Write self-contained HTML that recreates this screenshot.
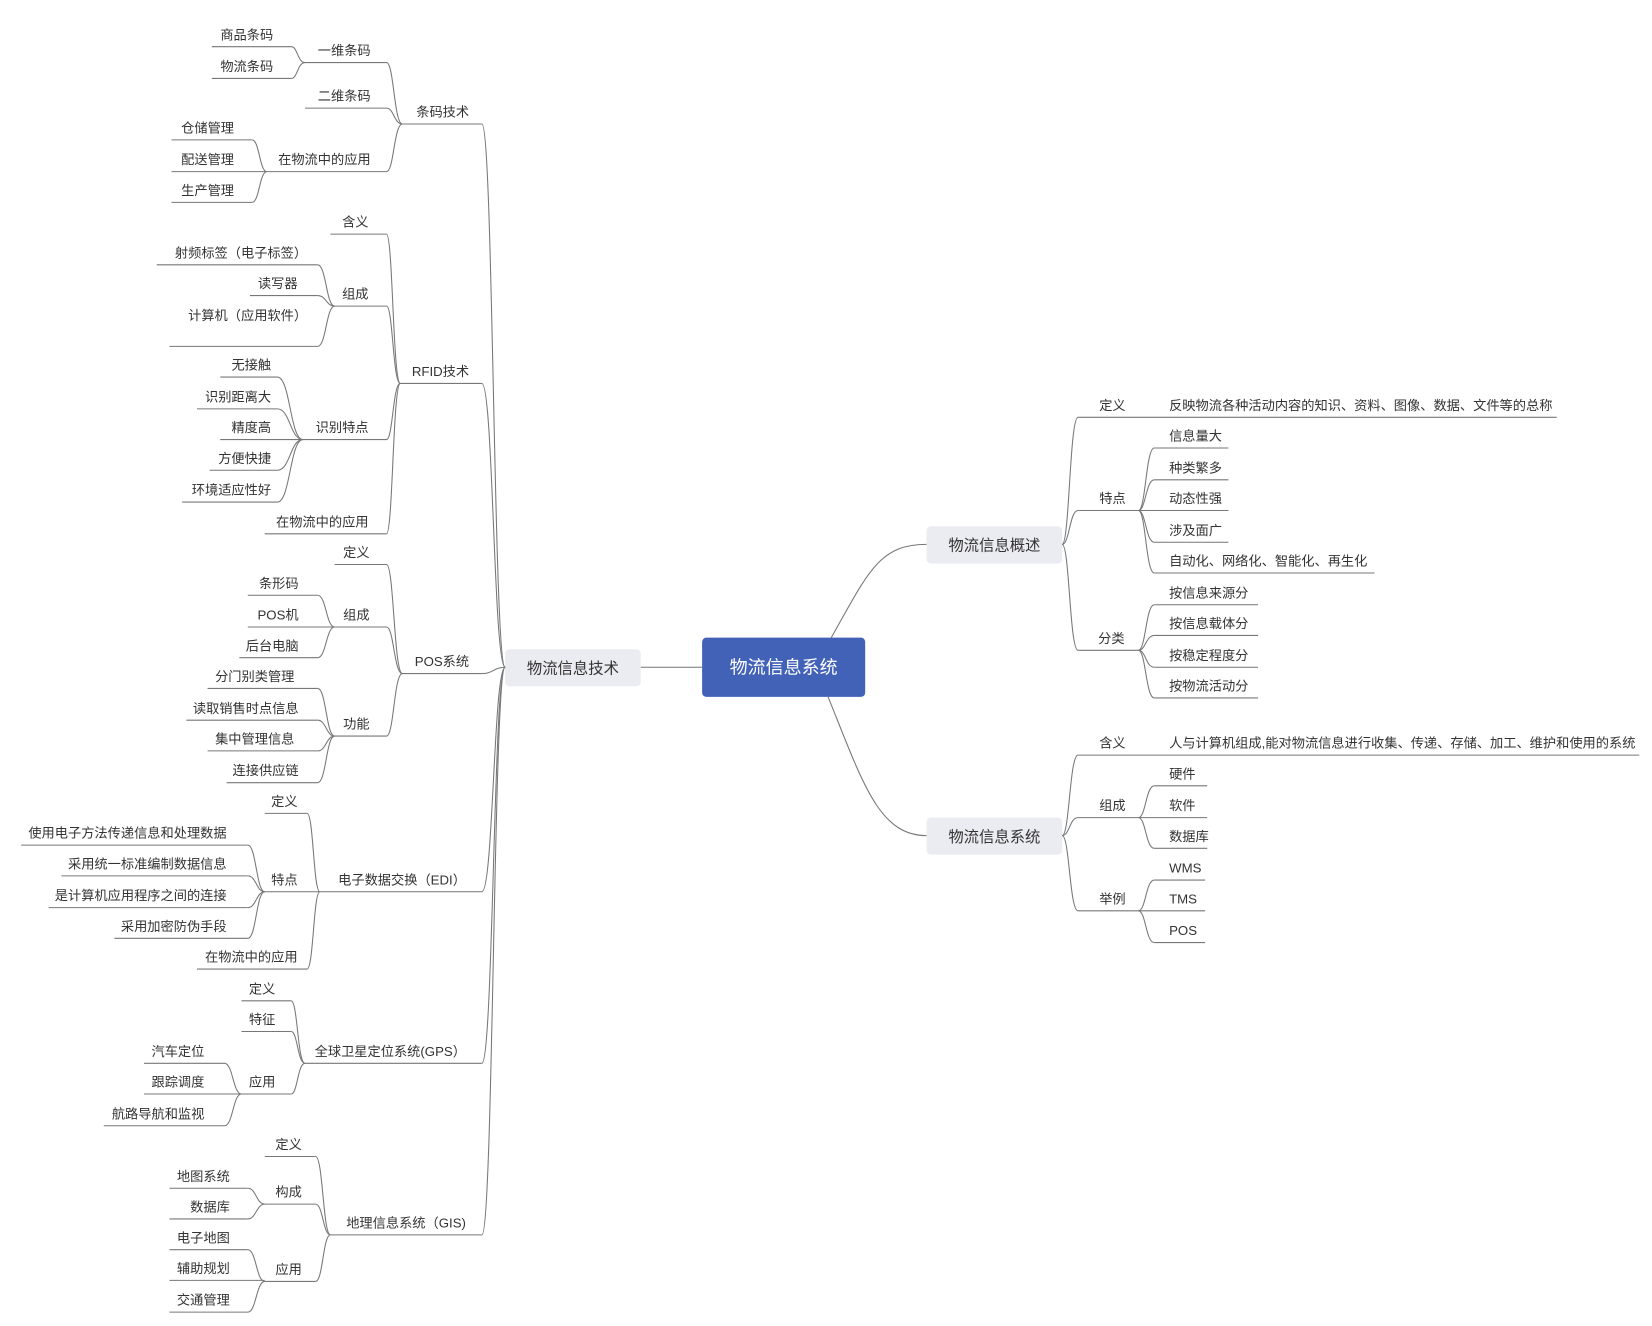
<!DOCTYPE html>
<html><head><meta charset="utf-8"><style>
html,body{margin:0;padding:0;background:#fff;}
svg{display:block;}
path,line{stroke:#777;fill:none;stroke-width:1;}
text{font-family:"Liberation Sans","Noto Sans CJK SC",sans-serif;font-size:12.5px;fill:#333;}
.e{text-anchor:end;}
</style></head><body>
<svg width="1652" height="1326" viewBox="0 0 1560 1252" xmlns="http://www.w3.org/2000/svg">
<!-- center -->
<line x1="605" y1="630" x2="663" y2="630"/>
<path d="M785 602 C820 540 830 514 875 514"/>
<path d="M782 658 C815 740 830 789 875 789"/>
<rect x="663" y="602" width="154" height="56" rx="4" fill="#4262b8"/>
<text x="740" y="636" style="font-size:17px;fill:#fff;text-anchor:middle">物流信息系统</text>
<rect x="477" y="613" width="128" height="35" rx="4" fill="#ebebf2"/>
<text x="541" y="636" style="font-size:14.5px;text-anchor:middle">物流信息技术</text>
<rect x="875" y="497" width="128" height="35" rx="4" fill="#ebebf2"/>
<text x="939" y="520" style="font-size:14.5px;text-anchor:middle">物流信息概述</text>
<rect x="875" y="772" width="128" height="35" rx="4" fill="#ebebf2"/>
<text x="939" y="795" style="font-size:14.5px;text-anchor:middle">物流信息系统</text>

<!-- left level1 -->
<path d="M477 630 C466 630 466 117 455 117"/><line x1="380" y1="117" x2="455" y2="117"/><text class="e" x="443" y="110">条码技术</text>
<path d="M477 630 C466 630 466 362 455 362"/><line x1="378" y1="362" x2="455" y2="362"/><text class="e" x="443" y="355">RFID技术</text>
<path d="M477 630 C466 630 466 636 455 636"/><line x1="380" y1="636" x2="455" y2="636"/><text class="e" x="443" y="629">POS系统</text>
<path d="M477 630 C466 630 466 842 455 842"/><line x1="302" y1="842" x2="455" y2="842"/><text class="e" x="440" y="835">电子数据交换（EDI）</text>
<path d="M477 630 C466 630 466 1004 455 1004"/><line x1="288" y1="1004" x2="455" y2="1004"/><text class="e" x="440" y="997">全球卫星定位系统(GPS）</text>
<path d="M477 630 C466 630 466 1166 455 1166"/><line x1="312" y1="1166" x2="455" y2="1166"/><text class="e" x="440" y="1159">地理信息系统（GIS)</text>

<!-- 条码技术 -->
<path d="M380 117 C372 117 372 59 365 59"/><line x1="288" y1="59" x2="365" y2="59"/><text class="e" x="350" y="52">一维条码</text>
<path d="M380 117 C372 117 372 102 365 102"/><line x1="288" y1="102" x2="365" y2="102"/><text class="e" x="350" y="95">二维条码</text>
<path d="M380 117 C372 117 372 162 365 162"/><line x1="252" y1="162" x2="365" y2="162"/><text class="e" x="350" y="155">在物流中的应用</text>
<path d="M288 59 C281 59 281 44 275 44"/><line x1="200" y1="44" x2="275" y2="44"/><text class="e" x="258" y="37">商品条码</text>
<path d="M288 59 C281 59 281 74 275 74"/><line x1="200" y1="74" x2="275" y2="74"/><text class="e" x="258" y="67">物流条码</text>
<path d="M252 162 C245 162 245 132 238 132"/><line x1="162" y1="132" x2="238" y2="132"/><text class="e" x="221" y="125">仓储管理</text>
<line x1="162" y1="162" x2="252" y2="162"/><text class="e" x="221" y="155">配送管理</text>
<path d="M252 162 C245 162 245 191 238 191"/><line x1="162" y1="191" x2="238" y2="191"/><text class="e" x="221" y="184">生产管理</text>

<!-- RFID -->
<path d="M378 362 C371 362 371 221 365 221"/><line x1="312" y1="221" x2="365" y2="221"/><text class="e" x="348" y="214">含义</text>
<path d="M378 362 C371 362 371 289 365 289"/><line x1="316" y1="289" x2="365" y2="289"/><text class="e" x="348" y="282">组成</text>
<path d="M378 362 C371 362 371 415 365 415"/><line x1="286" y1="415" x2="365" y2="415"/><text class="e" x="348" y="408">识别特点</text>
<path d="M378 362 C371 362 371 504 365 504"/><line x1="250" y1="504" x2="365" y2="504"/><text class="e" x="348" y="497">在物流中的应用</text>
<path d="M316 289 C308 289 308 250 300 250"/><line x1="148" y1="250" x2="300" y2="250"/><text class="e" x="290" y="243">射频标签（电子标签）</text>
<path d="M316 289 C308 289 308 279 300 279"/><line x1="236" y1="279" x2="300" y2="279"/><text class="e" x="281" y="272">读写器</text>
<path d="M316 289 C308 289 308 327 300 327"/><line x1="160" y1="327" x2="300" y2="327"/><text class="e" x="290" y="302">计算机（应用软件）</text>
<path d="M286 415 C274 415 274 356 262 356"/><line x1="208" y1="356" x2="262" y2="356"/><text class="e" x="256" y="349">无接触</text>
<path d="M286 415 C274 415 274 386 262 386"/><line x1="186" y1="386" x2="262" y2="386"/><text class="e" x="256" y="379">识别距离大</text>
<line x1="208" y1="415" x2="286" y2="415"/><text class="e" x="256" y="408">精度高</text>
<path d="M286 415 C274 415 274 444 262 444"/><line x1="198" y1="444" x2="262" y2="444"/><text class="e" x="256" y="437">方便快捷</text>
<path d="M286 415 C274 415 274 474 262 474"/><line x1="172" y1="474" x2="262" y2="474"/><text class="e" x="256" y="467">环境适应性好</text>

<!-- POS -->
<path d="M380 636 C372 636 372 533 365 533"/><line x1="316" y1="533" x2="365" y2="533"/><text class="e" x="349" y="526">定义</text>
<path d="M380 636 C372 636 372 592 365 592"/><line x1="316" y1="592" x2="365" y2="592"/><text class="e" x="349" y="585">组成</text>
<path d="M380 636 C372 636 372 695 365 695"/><line x1="316" y1="695" x2="365" y2="695"/><text class="e" x="349" y="688">功能</text>
<path d="M316 592 C308 592 308 562 300 562"/><line x1="234" y1="562" x2="300" y2="562"/><text class="e" x="282" y="555">条形码</text>
<line x1="234" y1="592" x2="316" y2="592"/><text class="e" x="282" y="585">POS机</text>
<path d="M316 592 C308 592 308 621 300 621"/><line x1="226" y1="621" x2="300" y2="621"/><text class="e" x="282" y="614">后台电脑</text>
<path d="M316 695 C308 695 308 650 300 650"/><line x1="196" y1="650" x2="300" y2="650"/><text class="e" x="278" y="643">分门别类管理</text>
<path d="M316 695 C308 695 308 680 300 680"/><line x1="176" y1="680" x2="300" y2="680"/><text class="e" x="282" y="673">读取销售时点信息</text>
<path d="M316 695 C308 695 308 709 300 709"/><line x1="196" y1="709" x2="300" y2="709"/><text class="e" x="278" y="702">集中管理信息</text>
<path d="M316 695 C308 695 308 739 300 739"/><line x1="214" y1="739" x2="300" y2="739"/><text class="e" x="282" y="732">连接供应链</text>

<!-- EDI -->
<path d="M302 842 C296 842 296 768 290 768"/><line x1="250" y1="768" x2="290" y2="768"/><text class="e" x="281" y="761">定义</text>
<line x1="250" y1="842" x2="302" y2="842"/><text class="e" x="281" y="835">特点</text>
<path d="M302 842 C296 842 296 915 290 915"/><line x1="186" y1="915" x2="290" y2="915"/><text class="e" x="281" y="908">在物流中的应用</text>
<path d="M250 842 C242 842 242 798 234 798"/><line x1="20" y1="798" x2="234" y2="798"/><text class="e" x="214" y="791">使用电子方法传递信息和处理数据</text>
<path d="M250 842 C242 842 242 827 234 827"/><line x1="58" y1="827" x2="234" y2="827"/><text class="e" x="214" y="820">采用统一标准编制数据信息</text>
<path d="M250 842 C242 842 242 857 234 857"/><line x1="46" y1="857" x2="234" y2="857"/><text class="e" x="214" y="850">是计算机应用程序之间的连接</text>
<path d="M250 842 C242 842 242 886 234 886"/><line x1="108" y1="886" x2="234" y2="886"/><text class="e" x="214" y="879">采用加密防伪手段</text>

<!-- GPS -->
<path d="M288 1004 C281 1004 281 945 275 945"/><line x1="228" y1="945" x2="275" y2="945"/><text class="e" x="260" y="938">定义</text>
<path d="M288 1004 C281 1004 281 974 275 974"/><line x1="228" y1="974" x2="275" y2="974"/><text class="e" x="260" y="967">特征</text>
<path d="M288 1004 C281 1004 281 1033 275 1033"/><line x1="228" y1="1033" x2="275" y2="1033"/><text class="e" x="260" y="1026">应用</text>
<path d="M228 1033 C220 1033 220 1004 212 1004"/><line x1="136" y1="1004" x2="212" y2="1004"/><text class="e" x="193" y="997">汽车定位</text>
<line x1="136" y1="1033" x2="228" y2="1033"/><text class="e" x="193" y="1026">跟踪调度</text>
<path d="M228 1033 C220 1033 220 1063 212 1063"/><line x1="98" y1="1063" x2="212" y2="1063"/><text class="e" x="193" y="1056">航路导航和监视</text>

<!-- GIS -->
<path d="M312 1166 C305 1166 305 1092 298 1092"/><line x1="250" y1="1092" x2="298" y2="1092"/><text class="e" x="285" y="1085">定义</text>
<path d="M312 1166 C305 1166 305 1137 298 1137"/><line x1="250" y1="1137" x2="298" y2="1137"/><text class="e" x="285" y="1130">构成</text>
<path d="M312 1166 C305 1166 305 1210 298 1210"/><line x1="250" y1="1210" x2="298" y2="1210"/><text class="e" x="285" y="1203">应用</text>
<path d="M250 1137 C242 1137 242 1122 234 1122"/><line x1="160" y1="1122" x2="234" y2="1122"/><text class="e" x="217" y="1115">地图系统</text>
<path d="M250 1137 C242 1137 242 1151 234 1151"/><line x1="160" y1="1151" x2="234" y2="1151"/><text class="e" x="217" y="1144">数据库</text>
<path d="M250 1210 C242 1210 242 1180 234 1180"/><line x1="160" y1="1180" x2="234" y2="1180"/><text class="e" x="217" y="1173">电子地图</text>
<line x1="160" y1="1209" x2="250" y2="1209"/><text class="e" x="217" y="1202">辅助规划</text>
<path d="M250 1210 C242 1210 242 1239 234 1239"/><line x1="160" y1="1239" x2="234" y2="1239"/><text class="e" x="217" y="1232">交通管理</text>

<!-- right: 概述 -->
<path d="M1003 514 C1010 514 1010 394 1018 394"/><line x1="1018" y1="394" x2="1470" y2="394"/><text x="1038" y="387">定义</text><text x="1104" y="387">反映物流各种活动内容的知识、资料、图像、数据、文件等的总称</text>
<path d="M1003 514 C1010 514 1010 482 1018 482"/><line x1="1018" y1="482" x2="1075" y2="482"/><text x="1038" y="475">特点</text>
<path d="M1003 514 C1010 514 1010 614 1018 614"/><line x1="1018" y1="614" x2="1075" y2="614"/><text x="1037" y="607">分类</text>
<path d="M1075 482 C1082 482 1082 423 1090 423"/><line x1="1090" y1="423" x2="1160" y2="423"/><text x="1104" y="416">信息量大</text>
<path d="M1075 482 C1082 482 1082 453 1090 453"/><line x1="1090" y1="453" x2="1160" y2="453"/><text x="1104" y="446">种类繁多</text>
<line x1="1075" y1="482" x2="1160" y2="482"/><text x="1104" y="475">动态性强</text>
<path d="M1075 482 C1082 482 1082 512 1090 512"/><line x1="1090" y1="512" x2="1160" y2="512"/><text x="1104" y="505">涉及面广</text>
<path d="M1075 482 C1082 482 1082 541 1090 541"/><line x1="1090" y1="541" x2="1298" y2="541"/><text x="1104" y="534">自动化、网络化、智能化、再生化</text>
<path d="M1075 614 C1082 614 1082 571 1090 571"/><line x1="1090" y1="571" x2="1188" y2="571"/><text x="1104" y="564">按信息来源分</text>
<path d="M1075 614 C1082 614 1082 600 1090 600"/><line x1="1090" y1="600" x2="1188" y2="600"/><text x="1104" y="593">按信息载体分</text>
<path d="M1075 614 C1082 614 1082 630 1090 630"/><line x1="1090" y1="630" x2="1188" y2="630"/><text x="1104" y="623">按稳定程度分</text>
<path d="M1075 614 C1082 614 1082 659 1090 659"/><line x1="1090" y1="659" x2="1188" y2="659"/><text x="1104" y="652">按物流活动分</text>

<!-- right: 系统 -->
<path d="M1003 789 C1010 789 1010 713 1018 713"/><line x1="1018" y1="713" x2="1548" y2="713"/><text x="1038" y="706">含义</text><text x="1104" y="706">人与计算机组成,能对物流信息进行收集、传递、存储、加工、维护和使用的系统</text>
<path d="M1003 789 C1010 789 1010 772 1018 772"/><line x1="1018" y1="772" x2="1075" y2="772"/><text x="1038" y="765">组成</text>
<path d="M1003 789 C1010 789 1010 860 1018 860"/><line x1="1018" y1="860" x2="1075" y2="860"/><text x="1038" y="853">举例</text>
<path d="M1075 772 C1082 772 1082 742 1090 742"/><line x1="1090" y1="742" x2="1140" y2="742"/><text x="1104" y="735">硬件</text>
<line x1="1075" y1="772" x2="1140" y2="772"/><text x="1104" y="765">软件</text>
<path d="M1075 772 C1082 772 1082 801 1090 801"/><line x1="1090" y1="801" x2="1140" y2="801"/><text x="1104" y="794">数据库</text>
<path d="M1075 860 C1082 860 1082 831 1090 831"/><line x1="1090" y1="831" x2="1138" y2="831"/><text x="1104" y="824">WMS</text>
<line x1="1075" y1="860" x2="1138" y2="860"/><text x="1104" y="853">TMS</text>
<path d="M1075 860 C1082 860 1082 890 1090 890"/><line x1="1090" y1="890" x2="1138" y2="890"/><text x="1104" y="883">POS</text>
</svg>
</body></html>
